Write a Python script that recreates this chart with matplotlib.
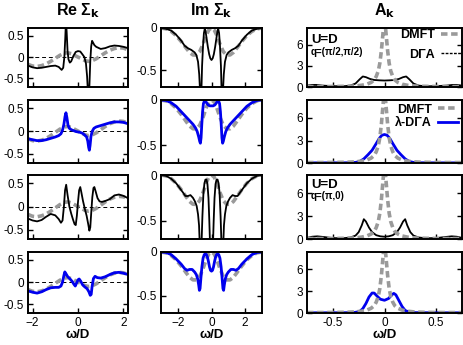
import matplotlib
matplotlib.use("Agg")
import matplotlib.pyplot as plt
import numpy as np
from matplotlib.lines import Line2D

plt.rcParams["font.family"] = ["Liberation Sans", "DejaVu Sans"]
plt.rcParams["mathtext.fontset"] = "dejavusans"

# ---- DMFT (local, same for every k) ----
w_re_dmft = [-2.2, -2.0, -1.8, -1.6, -1.4, -1.2, -1.0, -0.8, -0.6, -0.45, -0.3, -0.15, 0.0,
             0.15, 0.3, 0.45, 0.6, 0.8, 1.0, 1.2, 1.4, 1.6, 1.8, 2.0, 2.2]
re_dmft = [-0.17, -0.21, -0.22, -0.20, -0.16, -0.10, -0.03, 0.04, 0.09, 0.10, 0.08, 0.04, 0.0,
           -0.04, -0.08, -0.10, -0.09, -0.04, 0.03, 0.10, 0.16, 0.20, 0.22, 0.21, 0.17]

w_im_dmft = [-3.0, -2.7, -2.4, -2.1, -1.8, -1.5, -1.3, -1.1, -0.9, -0.7, -0.5, -0.3, -0.15, 0.0,
             0.15, 0.3, 0.5, 0.7, 0.9, 1.1, 1.3, 1.5, 1.8, 2.1, 2.4, 2.7, 3.0]
im_dmft = [0.0, -0.01, -0.04, -0.09, -0.16, -0.24, -0.29, -0.32, -0.32, -0.28, -0.19, -0.08, -0.02, 0.0,
           -0.02, -0.08, -0.19, -0.28, -0.32, -0.32, -0.29, -0.24, -0.16, -0.09, -0.04, -0.01, 0.0]

w_a_dmft = [-0.75, -0.6, -0.45, -0.35, -0.28, -0.22, -0.17, -0.13, -0.1, -0.08, -0.06, -0.045, -0.03, -0.02,
            -0.01, 0.0, 0.01, 0.02, 0.03, 0.045, 0.06, 0.08, 0.1, 0.13, 0.17, 0.22, 0.28, 0.35, 0.45, 0.6, 0.75]
a_dmft = [0.06, 0.06, 0.08, 0.11, 0.16, 0.25, 0.4, 0.65, 1.0, 1.5, 2.3, 3.4, 5.2, 6.8,
          8.4, 9.0, 8.4, 6.8, 5.2, 3.4, 2.3, 1.5, 1.0, 0.65, 0.4, 0.25, 0.16, 0.11, 0.08, 0.06, 0.06]

# ---- Re Sigma_k ----
w_re1 = [-2.2, -2.0, -1.8, -1.6, -1.4, -1.2, -1.0, -0.85, -0.72, -0.65, -0.6, -0.56, -0.53, -0.5, -0.46,
         -0.42, -0.36, -0.3, -0.2, -0.1, 0.0, 0.1, 0.2, 0.28, 0.35, 0.4, 0.44, 0.47, 0.5, 0.54, 0.58,
         0.62, 0.66, 0.72, 0.8, 1.0, 1.2, 1.4, 1.6, 1.8, 2.0, 2.2]
re_dga_pp = [-0.20, -0.24, -0.26, -0.25, -0.23, -0.21, -0.20, -0.23, -0.30, -0.25, 0.0, 0.45, 0.85, 0.6, 0.15,
             -0.05, -0.13, -0.10, 0.03, 0.12, 0.14, 0.13, 0.06, 0.0, -0.15, -0.45, -0.85, -1.0, -0.7, -0.1, 0.25,
             0.38, 0.34, 0.28, 0.24, 0.19, 0.21, 0.25, 0.27, 0.26, 0.24, 0.21]

w_re2 = [-2.2, -2.0, -1.8, -1.6, -1.4, -1.2, -1.0, -0.85, -0.75, -0.68, -0.62, -0.57, -0.53, -0.49, -0.44,
         -0.38, -0.3, -0.2, -0.1, 0.0, 0.1, 0.2, 0.3, 0.38, 0.43, 0.47, 0.5, 0.53, 0.57, 0.62, 0.7, 0.8,
         1.0, 1.2, 1.4, 1.6, 1.8, 2.0, 2.2]
re_ldga_pp = [-0.17, -0.19, -0.21, -0.21, -0.19, -0.16, -0.13, -0.10, -0.06, 0.02, 0.15, 0.32, 0.40, 0.30, 0.13,
              0.06, 0.03, 0.01, -0.01, -0.02, -0.03, -0.05, -0.09, -0.13, -0.22, -0.36, -0.42, -0.32, -0.12,
              -0.01, 0.06, 0.09, 0.12, 0.15, 0.18, 0.20, 0.20, 0.19, 0.16]

w_re3 = [-2.2, -2.0, -1.8, -1.6, -1.4, -1.2, -1.0, -0.85, -0.75, -0.68, -0.62, -0.57, -0.52, -0.46, -0.38,
         -0.3, -0.22, -0.15, -0.1, -0.05, 0.0, 0.05, 0.1, 0.15, 0.22, 0.3, 0.38, 0.45, 0.5, 0.54, 0.58,
         0.63, 0.68, 0.72, 0.78, 0.86, 0.95, 1.05, 1.2, 1.4, 1.6, 1.8, 2.0, 2.2]
re_dga_p0 = [-0.26, -0.30, -0.32, -0.29, -0.22, -0.16, -0.19, -0.27, -0.35, -0.30, 0.0, 0.35, 0.47, 0.25, 0.0,
             -0.15, -0.28, -0.38, -0.40, -0.2, 0.1, 0.35, 0.42, 0.30, 0.12, -0.05, -0.2, -0.38, -0.52, -0.45,
             -0.15, 0.2, 0.40, 0.42, 0.32, 0.18, 0.11, 0.10, 0.12, 0.16, 0.24, 0.26, 0.23, 0.18]

w_re4 = [-2.2, -2.0, -1.8, -1.6, -1.4, -1.2, -1.0, -0.85, -0.75, -0.68, -0.62, -0.58, -0.52, -0.45, -0.35,
         -0.25, -0.18, -0.12, -0.06, 0.0, 0.05, 0.12, 0.2, 0.3, 0.4, 0.48, 0.54, 0.58, 0.62, 0.68, 0.75,
         0.85, 1.0, 1.2, 1.4, 1.6, 1.8, 2.0, 2.2]
re_ldga_p0 = [-0.20, -0.23, -0.25, -0.22, -0.17, -0.13, -0.12, -0.12, -0.09, 0.0, 0.15, 0.23, 0.18, 0.12, 0.07,
              0.01, -0.05, -0.09, -0.02, 0.05, 0.07, 0.02, -0.06, -0.11, -0.15, -0.22, -0.30, -0.28, -0.10,
              0.08, 0.13, 0.10, 0.09, 0.12, 0.17, 0.21, 0.22, 0.20, 0.17]

# ---- Im Sigma_k (symmetric in omega, half given) ----
w_im1 = [-3.0, -2.7, -2.4, -2.1, -1.8, -1.6, -1.4, -1.2, -1.0, -0.9, -0.8, -0.73, -0.68, -0.64, -0.6, -0.56,
         -0.5, -0.45, -0.4, -0.36, -0.3, -0.22, -0.14, -0.07, 0.0]
im_dga_pp = [0.0, -0.01, -0.03, -0.08, -0.15, -0.21, -0.24, -0.26, -0.29, -0.32, -0.40, -0.55, -0.75, -0.9,
             -0.75, -0.45, -0.2, -0.06, -0.01, -0.03, -0.11, -0.22, -0.31, -0.36, -0.38]

w_im2 = [-3.0, -2.7, -2.4, -2.1, -1.8, -1.5, -1.3, -1.1, -0.95, -0.85, -0.76, -0.7, -0.66, -0.62, -0.58,
         -0.53, -0.48, -0.42, -0.36, -0.3, -0.2, -0.1, 0.0]
im_ldga_pp = [0.0, -0.005, -0.03, -0.07, -0.13, -0.19, -0.23, -0.27, -0.31, -0.35, -0.41, -0.46, -0.48, -0.42,
              -0.28, -0.13, -0.04, -0.01, -0.01, -0.03, -0.055, -0.065, -0.065]

w_im3 = [-3.0, -2.7, -2.4, -2.1, -1.9, -1.7, -1.55, -1.4, -1.25, -1.1, -0.98, -0.88, -0.8, -0.74, -0.7,
         -0.66, -0.6, -0.54, -0.48, -0.42, -0.36, -0.3, -0.24, -0.18, -0.13, -0.08, -0.04, 0.0]
im_dga_p0 = [0.0, -0.01, -0.04, -0.09, -0.14, -0.19, -0.23, -0.23, -0.22, -0.25, -0.29, -0.34, -0.43, -0.55,
             -0.75, -0.95, -0.8, -0.45, -0.2, -0.09, -0.05, -0.05, -0.1, -0.25, -0.5, -0.8, -1.0, -1.05]

w_im4 = [-3.0, -2.7, -2.4, -2.1, -1.8, -1.6, -1.45, -1.3, -1.15, -1.0, -0.9, -0.82, -0.76, -0.72, -0.68,
         -0.63, -0.57, -0.5, -0.43, -0.36, -0.3, -0.24, -0.18, -0.12, -0.06, 0.0]
im_ldga_p0 = [0.0, -0.005, -0.03, -0.08, -0.14, -0.19, -0.21, -0.20, -0.20, -0.23, -0.26, -0.31, -0.38, -0.44,
              -0.42, -0.30, -0.17, -0.07, -0.03, -0.02, -0.03, -0.06, -0.11, -0.17, -0.21, -0.22]

# ---- A_k ----
w_a1 = [-0.75, -0.7, -0.66, -0.6, -0.5, -0.4, -0.33, -0.28, -0.24, -0.21, -0.18, -0.14, -0.1, -0.05, 0.0,
        0.05, 0.1, 0.14, 0.18, 0.21, 0.24, 0.28, 0.33, 0.4, 0.5, 0.6, 0.66, 0.7, 0.75]
a_dga_pp = [0.2, 0.3, 0.3, 0.2, 0.12, 0.1, 0.2, 0.5, 1.1, 1.5, 1.4, 1.15, 1.0, 0.95, 0.92,
            0.95, 1.0, 1.15, 1.4, 1.5, 1.1, 0.5, 0.2, 0.1, 0.12, 0.2, 0.3, 0.3, 0.2]

w_a2 = [-0.75, -0.5, -0.35, -0.28, -0.24, -0.2, -0.16, -0.12, -0.08, -0.05, -0.025, 0.0,
        0.025, 0.05, 0.08, 0.12, 0.16, 0.2, 0.24, 0.28, 0.35, 0.5, 0.75]
a_ldga_pp = [0.02, 0.02, 0.03, 0.08, 0.2, 0.55, 1.1, 1.7, 2.6, 3.3, 3.7, 3.8,
             3.7, 3.3, 2.6, 1.7, 1.1, 0.55, 0.2, 0.08, 0.03, 0.02, 0.02]

w_a3 = [-0.75, -0.7, -0.65, -0.58, -0.5, -0.4, -0.33, -0.28, -0.25, -0.22, -0.2, -0.18, -0.15, -0.12, -0.08,
        -0.04, 0.0, 0.04, 0.08, 0.12, 0.15, 0.18, 0.2, 0.22, 0.25, 0.28, 0.33, 0.4, 0.5, 0.58, 0.65, 0.7, 0.75]
a_dga_p0 = [0.15, 0.3, 0.35, 0.25, 0.12, 0.1, 0.2, 0.45, 0.9, 1.8, 2.6, 2.3, 1.5, 0.9, 0.5,
            0.35, 0.3, 0.35, 0.5, 0.9, 1.5, 2.3, 2.6, 1.8, 0.9, 0.45, 0.2, 0.1, 0.12, 0.25, 0.35, 0.3, 0.15]

w_a4 = [-0.75, -0.5, -0.3, -0.24, -0.21, -0.18, -0.15, -0.12, -0.1, -0.07, -0.04, 0.0, 0.04, 0.07, 0.09,
        0.11, 0.14, 0.17, 0.2, 0.24, 0.3, 0.5, 0.75]
a_ldga_p0 = [0.03, 0.03, 0.05, 0.2, 0.6, 1.3, 2.2, 2.75, 2.75, 2.3, 1.9, 1.75, 2.0, 2.5, 2.7,
             2.5, 1.7, 0.9, 0.35, 0.12, 0.05, 0.03, 0.03]


def mirror(w, v):
    # half curve given for w <= 0, Im Sigma is even in omega
    w = np.array(w)
    v = np.array(v)
    return np.concatenate([w, -w[-2::-1]]), np.concatenate([v, v[-2::-1]])


GRAY = "#9a9a9a"
BLUE = "#0000ee"
dmft_kw = dict(color=GRAY, lw=2.6, ls=(0, (1.8, 1.0)))
black_kw = dict(color="black", lw=1.3)
blue_kw = dict(color=BLUE, lw=2.0)

fig = plt.figure(figsize=(4.63, 3.45), dpi=100)
W, H = 463.0, 345.0
rows = [(28, 87), (100, 163), (175, 239), (252, 313)]
cols = [(28, 128), (161, 262), (307, 462)]

axes = []
for (t, b) in rows:
    r = []
    for (l, rr) in cols:
        r.append(fig.add_axes([l / W, 1 - b / H, (rr - l) / W, (b - t) / H]))
    axes.append(r)

re_data = [(w_re1, re_dga_pp, black_kw), (w_re2, re_ldga_pp, blue_kw),
           (w_re3, re_dga_p0, black_kw), (w_re4, re_ldga_p0, blue_kw)]
im_data = [(w_im1, im_dga_pp, black_kw), (w_im2, im_ldga_pp, blue_kw),
           (w_im3, im_dga_p0, black_kw), (w_im4, im_ldga_p0, blue_kw)]
a_data = [(w_a1, a_dga_pp, black_kw), (w_a2, a_ldga_pp, blue_kw),
          (w_a3, a_dga_p0, black_kw), (w_a4, a_ldga_p0, blue_kw)]

for i in range(4):
    ax1, ax2, ax3 = axes[i]

    ax1.axhline(0, color="black", lw=0.7, ls=(0, (4, 3)))
    ax1.plot(w_re_dmft, re_dmft, **dmft_kw)
    ax1.plot(re_data[i][0], re_data[i][1], **re_data[i][2])
    ax1.set_xlim(-2.2, 2.2)
    ax1.set_ylim(-0.7, 0.68)
    ax1.set_xticks([-2, 0, 2])
    ax1.set_yticks([-0.5, 0, 0.5])
    ax1.set_yticklabels(["-0.5", "0", "0.5"])

    ax2.plot(w_im_dmft, im_dmft, **dmft_kw)
    wm, vm = mirror(im_data[i][0], im_data[i][1])
    ax2.plot(wm, vm, **im_data[i][2])
    ax2.set_xlim(-3, 3)
    ax2.set_ylim(-0.7, 0)
    ax2.set_xticks([-2, 0, 2])
    ax2.set_yticks([-0.5, 0])
    ax2.set_yticklabels(["-0.5", "0"])

    ax3.plot(a_data[i][0], a_data[i][1], **a_data[i][2])
    ax3.plot(w_a_dmft, a_dmft, **dmft_kw)
    ax3.set_xlim(-0.75, 0.75)
    ax3.set_ylim(0, 8.4)
    ax3.set_xticks([-0.5, 0, 0.5])
    ax3.set_yticks([0, 3, 6])
    ax3.set_xticklabels(["-0.5", "0", "0.5"])

    for ax in (ax1, ax2, ax3):
        ax.tick_params(direction="in", length=3.5, width=1.0, labelsize=8.5,
                       right=True, top=False, pad=3)
        for s in ax.spines.values():
            s.set_linewidth(1.4)
        if i < 3:
            ax.tick_params(labelbottom=False)

for ax in axes[3]:
    ax.set_xlabel("ω/D", fontsize=9.5, fontweight="bold", labelpad=0)

title_kw = dict(fontsize=11.5, fontweight="bold", pad=9)
axes[0][0].set_title(r"Re Σ$_\mathbf{k}$", **title_kw)
axes[0][1].set_title(r"Im Σ$_\mathbf{k}$", **title_kw)
axes[0][2].set_title(r"A$_\mathbf{k}$", **title_kw)

# labels in the A_k panels
for ax, q, yu, yq in [(axes[0][2], "q=(π/2,π/2)", 0.8, 0.6), (axes[2][2], "q=(π,0)", 0.85, 0.67)]:
    ax.text(0.025, yu, "U=D", transform=ax.transAxes, fontsize=9.5, fontweight="bold", va="center")
    ax.text(0.025, yq, q, transform=ax.transAxes, fontsize=7, fontweight="bold", va="center")

leg_prop = {"weight": "bold", "size": 9}
h_dmft = Line2D([], [], **dmft_kw)
h_dga = Line2D([], [], color="black", lw=1.0, ls=(0, (2, 1)))
h_ldga = Line2D([], [], **blue_kw)
axes[0][2].legend([h_dmft, h_dga], ["DMFT", "DΓA"], loc="upper right", frameon=False,
                  markerfirst=False, prop=leg_prop, handlelength=1.6, handletextpad=0.5,
                  labelspacing=0.6, borderaxespad=0.0, borderpad=0.1)
axes[1][2].legend([h_dmft, h_ldga], ["DMFT", "λ-DΓA"], loc="upper right", frameon=False,
                  markerfirst=False, prop=leg_prop, handlelength=1.6, handletextpad=0.5,
                  labelspacing=0.1, borderaxespad=0.1, borderpad=0.2)

fig.savefig("out.png", dpi=100)
